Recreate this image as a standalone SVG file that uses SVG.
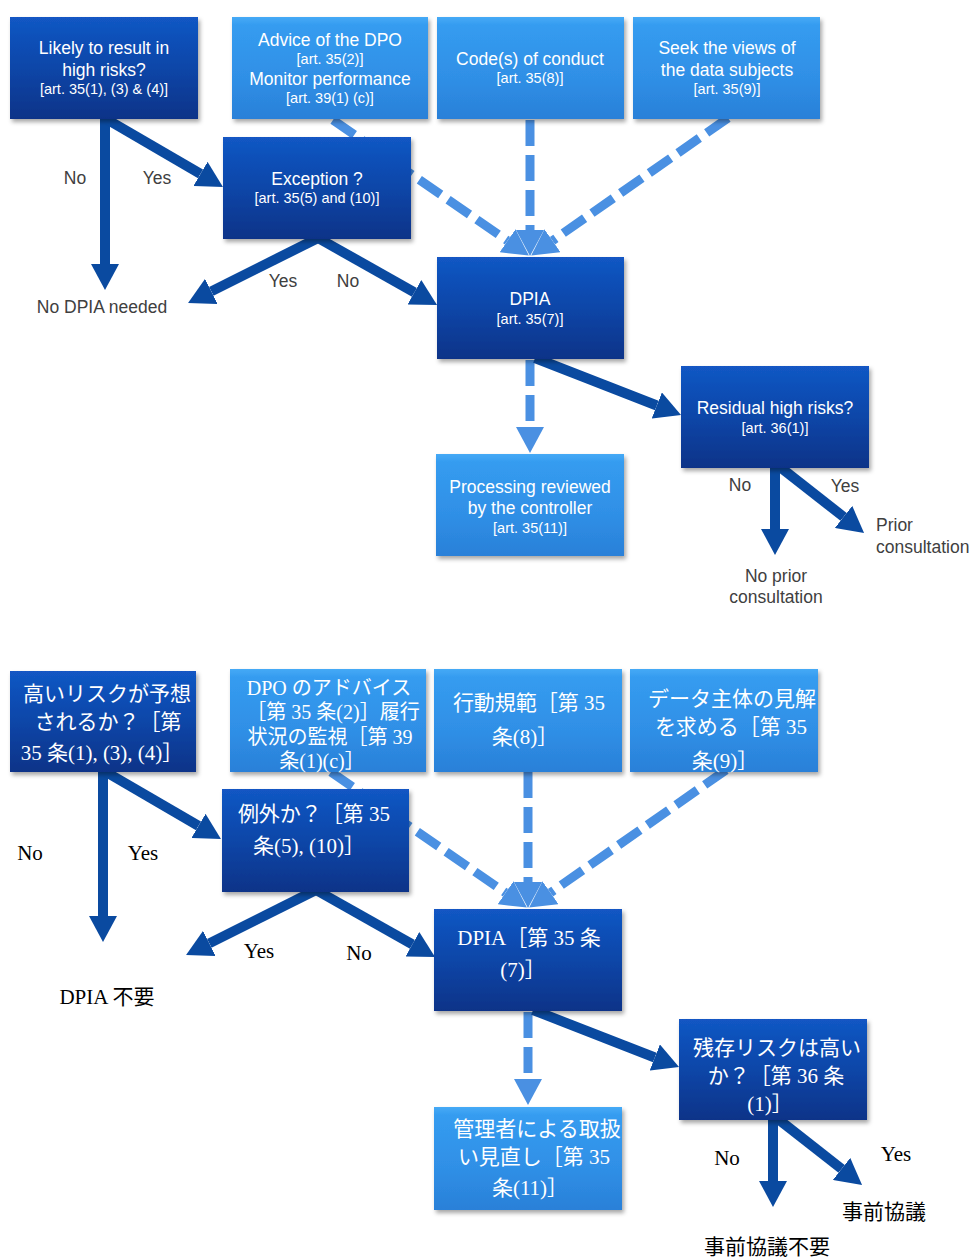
<svg xmlns="http://www.w3.org/2000/svg" width="974" height="1259" viewBox="0 0 974 1259">
<defs>
<linearGradient id="gDark" x1="0" y1="0" x2="0" y2="1">
<stop offset="0" stop-color="#1257c4"/>
<stop offset="0.5" stop-color="#0b46a8"/>
<stop offset="1" stop-color="#083388"/>
</linearGradient>
<linearGradient id="gLight" x1="0" y1="0" x2="0" y2="1">
<stop offset="0" stop-color="#46aaf6"/>
<stop offset="0.08" stop-color="#359cf0"/>
<stop offset="0.6" stop-color="#2f8fe6"/>
<stop offset="1" stop-color="#2a80d8"/>
</linearGradient>
<filter id="sh" x="-10%" y="-10%" width="125%" height="130%">
<feDropShadow dx="2" dy="3" stdDeviation="2" flood-color="#000" flood-opacity="0.35"/>
</filter>
<marker id="ahD" viewBox="0 0 26 28" markerWidth="26" markerHeight="28" markerUnits="userSpaceOnUse" refX="0" refY="14" orient="auto">
<path d="M0,0 L26,14 L0,28 z" fill="#0a4aa0"/>
</marker>
<marker id="ahL" viewBox="0 0 26 28" markerWidth="26" markerHeight="28" markerUnits="userSpaceOnUse" refX="0" refY="14" orient="auto">
<path d="M0,0 L26,14 L0,28 z" fill="#4a90e2"/>
</marker>
<style>
.dark{fill:url(#gDark);filter:url(#sh)}
.light{fill:url(#gLight);filter:url(#sh)}
.sol{stroke:#0a4aa0;stroke-width:10;fill:none;marker-end:url(#ahD)}
.dsh{stroke:#4a90e2;stroke-width:9;fill:none;stroke-dasharray:26 9;marker-end:url(#ahL)}
.t{font-family:"Liberation Sans",Arial,sans-serif;fill:#fff;text-anchor:middle}
.b{font-size:17.5px}
.s{font-size:14.5px}
.lab{font-family:"Liberation Sans",Arial,sans-serif;fill:#404040;font-size:17.5px;text-anchor:middle}
.j{font-family:"Liberation Serif","Noto Sans CJK JP",serif;fill:#fff;font-size:21px;text-anchor:middle}
.j20{font-size:20px}
.jl{font-family:"Liberation Serif","Noto Sans CJK JP",serif;fill:#000;font-size:21px;text-anchor:middle}
</style>
</defs>
<rect width="974" height="1259" fill="#fff"/>

<g id="connectors">
<g id="connectors-top">
<line class="dsh" x1="333" y1="120" x2="507.5" y2="240.8"/>
<line class="dsh" x1="530" y1="120" x2="530" y2="230"/>
<line class="dsh" x1="728" y1="118" x2="552.5" y2="240.7"/>
<line class="dsh" x1="530" y1="360" x2="530" y2="427"/>
<line class="sol" x1="105" y1="118" x2="105" y2="264"/>
<line class="sol" x1="108" y1="120" x2="200.5" y2="173.9"/>
<line class="sol" x1="318" y1="238" x2="211.3" y2="291.4"/>
<line class="sol" x1="318" y1="238" x2="414.4" y2="292.3"/>
<line class="sol" x1="535" y1="358" x2="656.8" y2="405.5"/>
<line class="sol" x1="775" y1="467" x2="775" y2="529"/>
<line class="sol" x1="780" y1="467" x2="843.6" y2="516.9"/>
<text class="lab" x="75" y="184">No</text>
<text class="lab" x="157" y="184">Yes</text>
<text class="lab" x="283" y="287">Yes</text>
<text class="lab" x="348" y="287">No</text>
<text class="lab" x="740" y="491">No</text>
<text class="lab" x="845" y="492">Yes</text>
</g>
<g id="connectors-bottom">
<g transform="translate(-2,652)">
<line class="dsh" x1="333" y1="120" x2="507.5" y2="240.8"/>
<line class="dsh" x1="530" y1="120" x2="530" y2="230"/>
<line class="dsh" x1="728" y1="118" x2="552.5" y2="240.7"/>
<line class="dsh" x1="530" y1="360" x2="530" y2="427"/>
<line class="sol" x1="105" y1="118" x2="105" y2="264"/>
<line class="sol" x1="108" y1="120" x2="200.5" y2="173.9"/>
<line class="sol" x1="318" y1="238" x2="211.3" y2="291.4"/>
<line class="sol" x1="318" y1="238" x2="414.4" y2="292.3"/>
<line class="sol" x1="535" y1="358" x2="656.8" y2="405.5"/>
<line class="sol" x1="775" y1="467" x2="775" y2="529"/>
<line class="sol" x1="780" y1="467" x2="843.6" y2="516.9"/>
</g>
<text class="jl" x="30" y="860">No</text>
<text class="jl" x="143" y="860">Yes</text>
<text class="jl" x="259" y="958">Yes</text>
<text class="jl" x="359" y="960">No</text>
<text class="jl" x="727" y="1165">No</text>
<text class="jl" x="896" y="1161">Yes</text>
</g>
</g>

<!-- Top nodes -->
<g id="n-likely">
<rect class="dark" x="10" y="17" width="188" height="102"/>
<text class="t b" x="104" y="54">Likely to result in</text>
<text class="t b" x="104" y="76">high risks?</text>
<text class="t s" x="104" y="94">[art. 35(1), (3) &amp; (4)]</text>
</g>
<g id="n-advice">
<rect class="light" x="232" y="17" width="196" height="102"/>
<text class="t b" x="330" y="46">Advice of the DPO</text>
<text class="t s" x="330" y="64">[art. 35(2)]</text>
<text class="t b" x="330" y="85">Monitor performance</text>
<text class="t s" x="330" y="103">[art. 39(1) (c)]</text>
</g>
<g id="n-code">
<rect class="light" x="437" y="17" width="187" height="102"/>
<text class="t b" x="530" y="65">Code(s) of conduct</text>
<text class="t s" x="530" y="83">[art. 35(8)]</text>
</g>
<g id="n-seek">
<rect class="light" x="633" y="17" width="187" height="102"/>
<text class="t b" x="727" y="54">Seek the views of</text>
<text class="t b" x="727" y="76">the data subjects</text>
<text class="t s" x="727" y="94">[art. 35(9)]</text>
</g>
<g id="n-exception">
<rect class="dark" x="223" y="137" width="188" height="102"/>
<text class="t b" x="317" y="185">Exception ?</text>
<text class="t s" x="317" y="203">[art. 35(5) and (10)]</text>
</g>
<g id="n-dpia">
<rect class="dark" x="437" y="257" width="187" height="102"/>
<text class="t b" x="530" y="305">DPIA</text>
<text class="t s" x="530" y="324">[art. 35(7)]</text>
</g>
<g id="n-reviewed">
<rect class="light" x="436" y="454" width="188" height="102"/>
<text class="t b" x="530" y="493">Processing reviewed</text>
<text class="t b" x="530" y="514">by the controller</text>
<text class="t s" x="530" y="533">[art. 35(11)]</text>
</g>
<g id="n-residual">
<rect class="dark" x="681" y="366" width="188" height="102"/>
<text class="t b" x="775" y="414">Residual high risks?</text>
<text class="t s" x="775" y="433">[art. 36(1)]</text>
</g>
<g id="n-nodpia">
<text class="lab" x="102" y="313">No DPIA needed</text>
</g>
<g id="n-prior">
<text class="lab" x="876" y="531" style="text-anchor:start">Prior</text>
<text class="lab" x="876" y="553" style="text-anchor:start">consultation</text>
</g>
<g id="n-noprior">
<text class="lab" x="776" y="582">No prior</text>
<text class="lab" x="776" y="603">consultation</text>
</g>

<!-- Bottom nodes (Japanese) -->
<g id="j-likely">
<rect class="dark" x="10" y="671" width="186" height="101"/>
<text class="j" x="107" y="701">高いリスクが予想</text>
<text class="j" x="108" y="729">されるか？［第</text>
<text class="j" x="102" y="760">35 条(1), (3), (4)］</text>
</g>
<g id="j-advice">
<rect class="light" x="230" y="669" width="196" height="103"/>
<text class="j j20" x="329" y="695">DPO のアドバイス</text>
<text class="j j20" x="333" y="719">［第 35 条(2)］履行</text>
<text class="j j20" x="330" y="744">状況の監視［第 39</text>
<text class="j j20" x="322" y="768">条(1)(c)］</text>
</g>
<g id="j-code">
<rect class="light" x="434" y="669" width="188" height="103"/>
<text class="j" x="529" y="710">行動規範［第 35</text>
<text class="j" x="525" y="744">条(8)］</text>
</g>
<g id="j-seek">
<rect class="light" x="630" y="669" width="188" height="103"/>
<text class="j" x="732" y="706">データ主体の見解</text>
<text class="j" x="731" y="734">を求める［第 35</text>
<text class="j" x="725" y="768">条(9)］</text>
</g>
<g id="j-exception">
<rect class="dark" x="222" y="789" width="187" height="103"/>
<text class="j" x="314" y="821">例外か？［第 35</text>
<text class="j" x="309" y="853">条(5), (10)］</text>
</g>
<g id="j-dpia">
<rect class="dark" x="434" y="909" width="188" height="102"/>
<text class="j" x="529" y="945">DPIA［第 35 条</text>
<text class="j" x="523" y="977">(7)］</text>
</g>
<g id="j-reviewed">
<rect class="light" x="434" y="1107" width="188" height="103"/>
<text class="j" x="537" y="1136">管理者による取扱</text>
<text class="j" x="534" y="1164">い見直し［第 35</text>
<text class="j" x="530" y="1195">条(11)］</text>
</g>
<g id="j-residual">
<rect class="dark" x="679" y="1019" width="188" height="101"/>
<text class="j" x="777" y="1055">残存リスクは高い</text>
<text class="j" x="776" y="1083">か？［第 36 条</text>
<text class="j" x="770" y="1111">(1)］</text>
</g>
<g id="j-nodpia">
<text class="jl" x="107" y="1004">DPIA 不要</text>
</g>
<g id="j-prior">
<text class="jl" x="884" y="1219">事前協議</text>
</g>
<g id="j-noprior">
<text class="jl" x="767" y="1254">事前協議不要</text>
</g>
</svg>
